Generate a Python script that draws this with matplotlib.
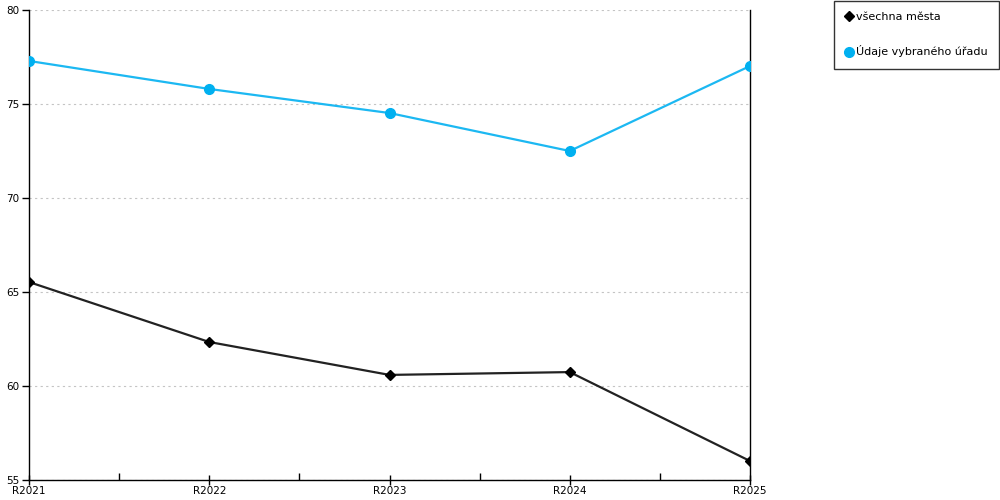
import matplotlib
matplotlib.use("Agg")
import matplotlib.pyplot as plt
from matplotlib.lines import Line2D

years = ["R2021", "R2022", "R2023", "R2024", "R2025"]
all_cities = [65.53, 62.34, 60.59, 60.74, 56.01]
office = [77.29, 75.80, 74.52, 72.50, 77.02]

label_all = "všechna města"
label_office = "Údaje vybraného úřadu"

black = "#000000"
blue = "#00b0f0"

plt.rcParams["font.family"] = ["DejaVu Sans"]
plt.rcParams["font.size"] = 7.5

fig = plt.figure(figsize=(10, 5), dpi=100)
ax = fig.add_axes([0.029, 0.04, 0.721, 0.94])

x = list(range(len(years)))
ax.plot(x, office, color="#1cb8f2", lw=1.6, marker="o", ms=7,
        mfc=blue, mec=blue, zorder=3)
ax.plot(x, all_cities, color="#222222", lw=1.6, marker="D", ms=5.5,
        mfc=black, mec=black, zorder=3)

ax.set_xlim(0, len(years) - 1)
ax.set_ylim(55, 80)
ax.set_yticks([55, 60, 65, 70, 75, 80])
ax.yaxis.grid(True, color="#c4c4c4", linestyle=(0, (2, 3)), lw=0.8)
ax.set_axisbelow(True)

ax.set_xticks(x)
ax.set_xticklabels(years)
ax.set_xticks([i + 0.5 for i in x[:-1]], minor=True)
ax.tick_params(axis="x", which="major", direction="inout", length=7, width=1, pad=1)
ax.tick_params(axis="x", which="minor", direction="in", length=5, width=1)
ax.tick_params(axis="y", direction="out", length=5, width=1, pad=2)

ax.spines["top"].set_visible(False)
for s in ["left", "right", "bottom"]:
    ax.spines[s].set_linewidth(1)
    ax.spines[s].set_color("black")

handles = [
    Line2D([], [], linestyle="none", marker="D", ms=5.5, mfc=black, mec=black),
    Line2D([], [], linestyle="none", marker="o", ms=7, mfc=blue, mec=blue),
]
leg = fig.legend(handles, [label_all, label_office], loc="upper left",
                 bbox_to_anchor=(0.834, 0.998), frameon=True, fancybox=False,
                 edgecolor="black", handletextpad=0.3, borderpad=1.0,
                 labelspacing=2.1, handlelength=0.7, borderaxespad=0,
                 fontsize=8)
leg.get_frame().set_linewidth(1)

fig.savefig("out.png", dpi=100)
